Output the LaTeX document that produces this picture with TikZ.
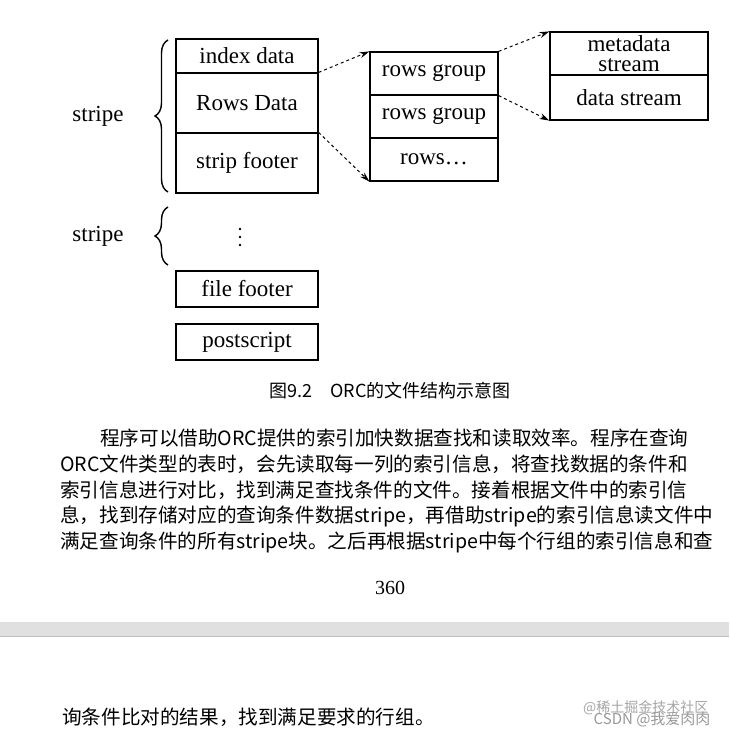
\documentclass[tikz,border=0pt]{standalone}
\usepackage{fontspec}
\setmainfont{Liberation Serif}
\newfontfamily\cjk{Noto Sans CJK SC}
\usetikzlibrary{decorations.pathreplacing,arrows.meta}
\begin{document}
\begin{tikzpicture}[x=1pt,y=-1pt,
  tf/.style={font=\fontsize{23}{23}\selectfont},
  box/.style={draw,line width=1.2pt,minimum width=142pt,inner sep=0pt,tf},
  mbox/.style={draw,line width=1.2pt,minimum width=128pt,minimum height=43pt,inner sep=0pt,tf},
  rbox/.style={draw,line width=1.2pt,minimum width=158pt,inner sep=0pt,tf},
  conn/.style={dashed,line width=1pt,-{Stealth[length=10pt,width=6pt]}},
  brc/.style={decorate,decoration={brace,amplitude=13pt},line width=1.4pt},
  para/.style={anchor=west,inner sep=0pt,font=\cjk\fontsize{19.6}{19.6}\selectfont}]
\useasboundingbox[fill=white] (0,0) rectangle (729,738);
% left column
\node[box,minimum height=34pt] (idx) at (247,56) {index data};
\node[box,minimum height=60pt] (rd) at (247,103) {Rows Data};
\node[box,minimum height=60pt] (sf) at (247,163) {strip footer};
\node[box,minimum height=36pt] (ff) at (247,289) {file footer};
\node[box,minimum height=36pt] (ps) at (247,342) {postscript};
% middle column
\node[mbox] (rg1) at (434,73.5) {rows group};
\node[mbox] (rg2) at (434,116.5) {rows group};
\node[mbox] (rw) at (434,159.5) {rows\ldots};
% right column
\node[rbox,minimum height=43pt,align=center,font=\fontsize{23}{20}\selectfont] (md) at (629,53.5) {metadata\\stream};
\node[rbox,minimum height=45pt] (ds) at (629,97.5) {data stream};
% connectors
\draw[conn] (rd.north east) -- (rg1.north west);
\draw[conn] (sf.north east) -- (rw.south west);
\draw[conn] (rg1.north east) -- (md.north west);
\draw[conn] (rg1.south east) -- (ds.south west);
% braces
\coordinate (b1a) at (168,192); \coordinate (b1b) at (168,40);
\draw[brc] (b1a) -- (b1b);
\node[tf] (s1) at (98,116) {stripe};
\coordinate (b2a) at (168,265); \coordinate (b2b) at (168,207);
\draw[brc] (b2a) -- (b2b);
\node[tf] (s2) at (98,236) {stripe};
\foreach \yy in {229,237,245} \fill (240,\yy) circle (1.4pt);
% caption
\node[font=\cjk\fontsize{18}{18}\selectfont] (cap) at (390,391) {图9.2\quad ORC的文件结构示意图};
% paragraph
\node[para] (p1) at (100,438) {程序可以借助ORC提供的索引加快数据查找和读取效率。程序在查询};
\node[para] (p2) at (60,464) {ORC文件类型的表时，会先读取每一列的索引信息，将查找数据的条件和};
\node[para] (p3) at (60,490) {索引信息进行对比，找到满足查找条件的文件。接着根据文件中的索引信};
\node[para] (p4) at (60,516) {息，找到存储对应的查询条件数据stripe，再借助stripe的索引信息读文件中};
\node[para] (p5) at (60,542) {满足查询条件的所有stripe块。之后再根据stripe中每个行组的索引信息和查};
\node[font=\fontsize{20}{20}\selectfont] (pg) at (390,588) {360};
% page separator
\fill[black!12] (0,622) rectangle (729,636);
\draw[black!25] (0,636) -- (729,636);
\node[para] (p6) at (62,717) {询条件比对的结果，找到满足要求的行组。};
% watermark
\node[anchor=east,text=black!35,font=\cjk\fontsize{14}{14}\selectfont] (w1) at (712,708) {@稀土掘金技术社区};
\node[anchor=east,text=black!40,font=\cjk\fontsize{15}{15}\selectfont] (w2) at (714,720) {CSDN @我爱肉肉};
\end{tikzpicture}
\end{document}
